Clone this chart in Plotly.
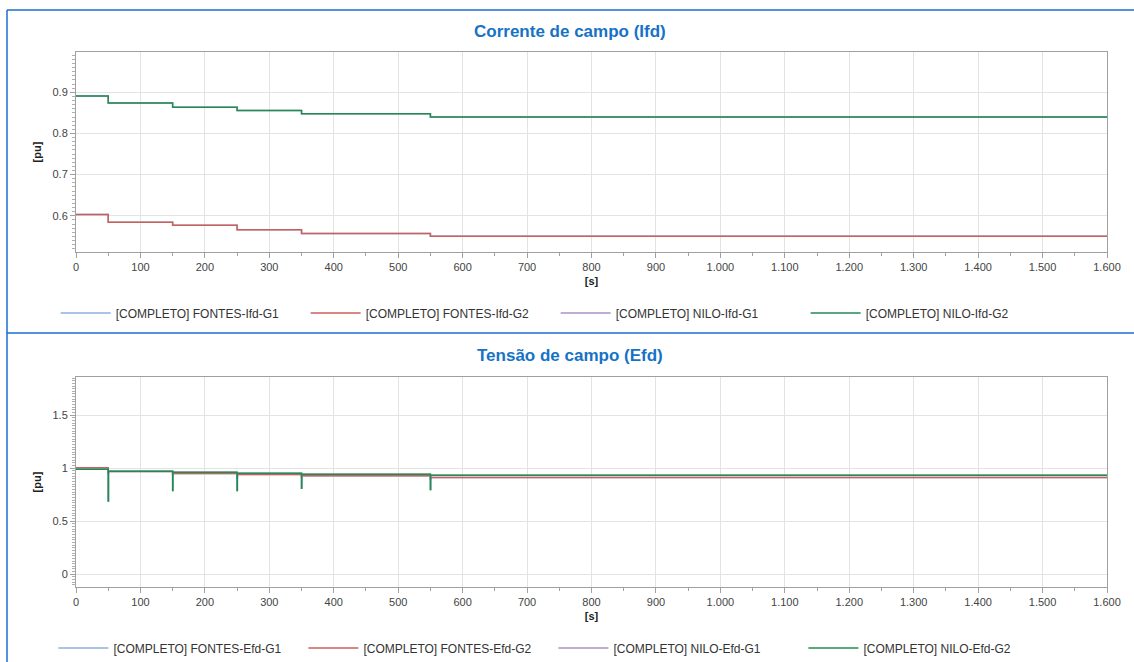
import plotly.graph_objects as go

# ---------------- data ----------------
step_times = [0, 50, 150, 250, 350, 550]
t_end = 1600

# Corrente de campo (Ifd) [pu] - level after each step time
ifd_fontes_g1 = [0.603, 0.584, 0.577, 0.566, 0.557, 0.550]
ifd_fontes_g2 = [0.603, 0.584, 0.577, 0.566, 0.557, 0.550]
ifd_nilo_g1 = [0.891, 0.874, 0.864, 0.856, 0.848, 0.840]
ifd_nilo_g2 = [0.891, 0.874, 0.864, 0.856, 0.848, 0.840]

# Tensao de campo (Efd) [pu] - level after each step time, and transient dip at each step
efd_fontes_g1 = [1.005, 0.970, 0.949, 0.940, 0.930, 0.912]
efd_fontes_g2 = [1.005, 0.970, 0.949, 0.940, 0.930, 0.912]
efd_nilo_g1 = [0.990, 0.972, 0.962, 0.953, 0.944, 0.934]
efd_nilo_g2 = [0.990, 0.972, 0.962, 0.953, 0.944, 0.934]
efd_fontes_dip = [0.955, 0.940, 0.910, 0.920, 0.900]
efd_nilo_dip = [0.690, 0.790, 0.790, 0.810, 0.800]

x_tick_vals = [0, 100, 200, 300, 400, 500, 600, 700, 800, 900, 1000, 1100, 1200, 1300, 1400, 1500, 1600]
x_tick_text = ["0", "100", "200", "300", "400", "500", "600", "700", "800", "900",
               "1.000", "1.100", "1.200", "1.300", "1.400", "1.500", "1.600"]

names_ifd = ["[COMPLETO] FONTES-Ifd-G1", "[COMPLETO] FONTES-Ifd-G2",
             "[COMPLETO] NILO-Ifd-G1", "[COMPLETO] NILO-Ifd-G2"]
names_efd = ["[COMPLETO] FONTES-Efd-G1", "[COMPLETO] FONTES-Efd-G2",
             "[COMPLETO] NILO-Efd-G1", "[COMPLETO] NILO-Efd-G2"]

colors = ["#8fb0dc", "#c9605c", "#a993c6", "#1f8d52"]
FONT = "Arial, Liberation Sans, sans-serif"


def step_series(levels, dips=None):
    xs, ys = [step_times[0]], [levels[0]]
    for i, t in enumerate(step_times[1:]):
        if dips is not None:
            xs += [t, t + 0.4]
            ys += [dips[i], levels[i + 1]]
        else:
            xs.append(t)
            ys.append(levels[i + 1])
    xs.append(t_end)
    ys.append(levels[-1])
    return xs, ys


fig = go.Figure()

for name, lev, col in zip(names_ifd, [ifd_fontes_g1, ifd_fontes_g2, ifd_nilo_g1, ifd_nilo_g2], colors):
    xs, ys = step_series(lev)
    fig.add_trace(go.Scatter(x=xs, y=ys, mode="lines", line=dict(color=col, width=1.5, shape="hv"),
                             name=name, xaxis="x", yaxis="y", legend="legend"))

for name, lev, dip, col in zip(names_efd,
                               [efd_fontes_g1, efd_fontes_g2, efd_nilo_g1, efd_nilo_g2],
                               [efd_fontes_dip, efd_fontes_dip, efd_nilo_dip, efd_nilo_dip], colors):
    xs, ys = step_series(lev, dip)
    fig.add_trace(go.Scatter(x=xs, y=ys, mode="lines", line=dict(color=col, width=1.5, shape="hv"),
                             name=name, xaxis="x2", yaxis="y2", legend="legend2"))

W, H = 1134, 662
xdom = [76 / W, 1107 / W]


def xaxis(anchor):
    return dict(domain=xdom, anchor=anchor, range=[0, 1600], tickvals=x_tick_vals, ticktext=x_tick_text,
                showline=True, linecolor="#a0a0a0", linewidth=1, mirror=True,
                showgrid=True, gridcolor="#e3e3e3", gridwidth=1, zeroline=False,
                ticks="outside", ticklen=5, tickcolor="#a0a0a0", automargin=False,
                minor=dict(dtick=50, ticks="outside", ticklen=3, tickcolor="#a0a0a0", showgrid=False),
                tickfont=dict(family=FONT, size=11, color="#444"),
                title=dict(text="<b>[s]</b>", font=dict(family=FONT, size=11, color="#222"), standoff=5))


def yaxis(anchor, dom, rng, dtick, mdtick):
    return dict(domain=dom, anchor=anchor, range=rng, dtick=dtick,
                showline=True, linecolor="#a0a0a0", linewidth=1, mirror=True,
                showgrid=True, gridcolor="#e3e3e3", gridwidth=1, zeroline=False,
                ticks="outside", ticklen=5, tickcolor="#a0a0a0", automargin=False,
                minor=dict(dtick=mdtick, ticks="outside", ticklen=3, tickcolor="#b0b0b0", showgrid=False),
                tickfont=dict(family=FONT, size=11, color="#444"),
                title=dict(text="<b>[pu]</b>", font=dict(family=FONT, size=11, color="#222"), standoff=8))


leg = dict(orientation="h", xanchor="center", yanchor="middle",
           font=dict(family=FONT, size=12, color="#333"), bgcolor="rgba(0,0,0,0)",
           entrywidth=185, itemwidth=50)

fig.update_layout(
    width=W, height=H, autosize=False, margin=dict(l=0, r=0, t=0, b=0, autoexpand=False),
    paper_bgcolor="white", plot_bgcolor="white",
    font=dict(family=FONT, size=12, color="#333"),
    xaxis=xaxis("y"),
    yaxis=yaxis("x", [1 - 252 / H, 1 - 52 / H], [0.512, 0.998], 0.1, 0.01),
    xaxis2=xaxis("y2"),
    yaxis2=yaxis("x2", [1 - 587 / H, 1 - 377 / H], [-0.12, 1.86], 0.5, 0.025),
    legend=dict(leg, x=0.49, y=1 - 313 / H),
    legend2=dict(leg, x=0.488, y=1 - 648 / H),
    annotations=[
        dict(text="<b>Corrente de campo (Ifd)</b>", x=570 / W, y=1 - 31 / H, xref="paper", yref="paper",
             xanchor="center", yanchor="middle",
             showarrow=False, font=dict(family=FONT, size=17, color="#1672c6")),
        dict(text="<b>Tensão de campo (Efd)</b>", x=570 / W, y=1 - 355 / H, xref="paper", yref="paper",
             xanchor="center", yanchor="middle",
             showarrow=False, font=dict(family=FONT, size=17, color="#1672c6")),
    ],
    shapes=[
        dict(type="line", xref="paper", yref="paper", x0=7 / W, x1=1, y0=1 - 10 / H, y1=1 - 10 / H,
             line=dict(color="#1a6fd0", width=1.5)),
        dict(type="line", xref="paper", yref="paper", x0=7 / W, x1=1, y0=1 - 333 / H, y1=1 - 333 / H,
             line=dict(color="#1a6fd0", width=1.5)),
        dict(type="line", xref="paper", yref="paper", x0=7 / W, x1=7 / W, y0=0, y1=1 - 10 / H,
             line=dict(color="#1a6fd0", width=1.5)),
    ],
)

fig.write_html(
    "out.html",
    config={"responsive": False, "displayModeBar": False},
    post_script="document.documentElement.style.overflow='hidden';document.body.style.overflow='hidden';document.body.style.margin='0';",
)
